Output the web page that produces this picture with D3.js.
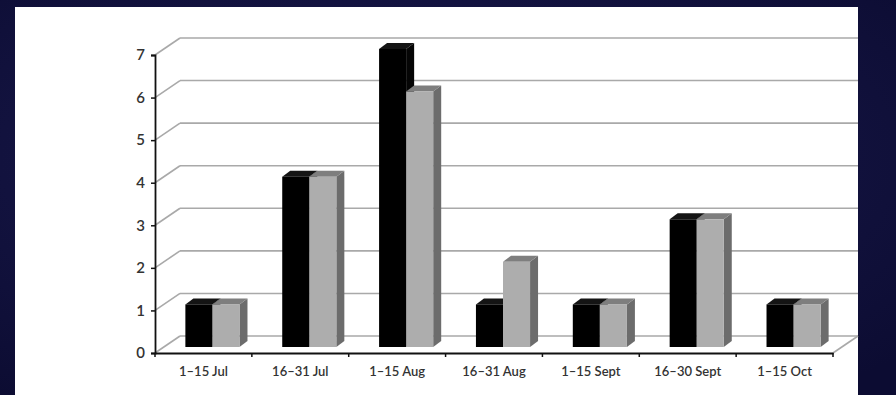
<!DOCTYPE html>
<html>
<head>
<meta charset="utf-8">
<script src="https://cdn.jsdelivr.net/npm/d3@7"></script>
<style>
  html, body { margin: 0; padding: 0; background: #0f0f3a; }
  svg { display: block; }
</style>
</head>
<body>
<svg id="chart" width="896" height="395"></svg>
<script>
// Fortnightly counts, two series drawn as paired 3D columns
const periods = ["1\u201315 Jul", "16\u201331 Jul", "1\u201315 Aug", "16\u201331 Aug", "1\u201315 Sept", "16\u201330 Sept", "1\u201315 Oct"];
const seriesNames = ["A", "B"];
const seriesA = [1, 4, 7, 1, 1, 3, 1];
const seriesB = [1, 4, 6, 2, 1, 3, 1];
const yTicks = [0, 1, 2, 3, 4, 5, 6, 7];

const svg = d3.select("#chart");
const W = 896, H = 395;

// background: dark navy with a soft glow
const defs = svg.append("defs");
const bg = defs.append("radialGradient").attr("id", "bg").attr("cx", "45%").attr("cy", "40%").attr("r", "75%");
bg.append("stop").attr("offset", "0%").attr("stop-color", "#1b1b50");
bg.append("stop").attr("offset", "100%").attr("stop-color", "#0c0c32");
svg.append("rect").attr("width", W).attr("height", H).attr("fill", "url(#bg)");

// white chart panel
svg.append("rect").attr("x", 15).attr("y", 7).attr("width", 843).attr("height", H - 7).attr("fill", "#ffffff");

// geometry
const floorLeft = 155, floorRight = 833;
const depth = { dx: 25, dy: -17 };          // back wall offset
const barFront = { dx: 9, dy: -6 };         // column front face offset
const barBack = { dx: 17, dy: -12 };        // column back face offset

const x = d3.scaleBand().domain(periods).range([floorLeft, floorRight]).paddingInner(0).paddingOuter(0);
const xs = d3.scaleBand().domain(seriesNames).range([0, x.bandwidth()]).paddingInner(0).paddingOuter(0.79);
const y = d3.scaleLinear().domain([0, 7]).range([353, 55]);

const gridColor = "#a9a9a9";
const g = svg.append("g");

// back wall grid lines + left wall diagonals
yTicks.forEach(v => {
  const yy = y(v);
  g.append("line")
    .attr("x1", floorLeft + depth.dx).attr("y1", yy + depth.dy)
    .attr("x2", 858).attr("y2", yy + depth.dy)
    .attr("stroke", gridColor).attr("stroke-width", 1.6);
  g.append("line")
    .attr("x1", floorLeft).attr("y1", yy)
    .attr("x2", floorLeft + depth.dx).attr("y2", yy + depth.dy)
    .attr("stroke", gridColor).attr("stroke-width", 1.6);
});

// floor right edge
g.append("line")
  .attr("x1", floorRight).attr("y1", y(0))
  .attr("x2", floorRight + depth.dx).attr("y2", y(0) + depth.dy)
  .attr("stroke", gridColor).attr("stroke-width", 1.6);

// columns
const series = [
  { key: "A", values: seriesA, front: "#000000", top: "#141414", side: "#050505" },
  { key: "B", values: seriesB, front: "#adadad", top: "#7e7e7e", side: "#6c6c6c" }
];

const bars = g.append("g");
periods.forEach((p, i) => {
  series.forEach(s => {
    const v = s.values[i];
    const x0 = x(p) + xs(s.key);
    const x1 = x0 + xs.bandwidth();
    const yb = y(0), yt = y(v);
    const fx0 = x0 + barFront.dx, fx1 = x1 + barFront.dx;
    const fyb = yb + barFront.dy, fyt = yt + barFront.dy;
    const bx1 = x1 + barBack.dx, bx0 = x0 + barBack.dx;
    const byb = yb + barBack.dy, byt = yt + barBack.dy;
    // side face
    bars.append("path")
      .attr("d", `M${fx1},${fyb}L${bx1},${byb}L${bx1},${byt}L${fx1},${fyt}Z`)
      .attr("fill", s.side);
    // top face
    bars.append("path")
      .attr("d", `M${fx0},${fyt}L${bx0},${byt}L${bx1},${byt}L${fx1},${fyt}Z`)
      .attr("fill", s.top);
    // front face
    bars.append("rect")
      .attr("x", fx0).attr("y", fyt)
      .attr("width", fx1 - fx0).attr("height", fyb - fyt)
      .attr("fill", s.front);
  });
});

const labelFont = "Lato, 'Open Sans', sans-serif";

// y axis
const yAxis = d3.axisLeft(y).tickValues(yTicks).tickSize(4).tickPadding(6).tickFormat(d3.format("d"));
const ya = svg.append("g").attr("transform", `translate(${floorLeft},0)`).call(yAxis);
ya.select(".domain").attr("stroke", "#111").attr("stroke-width", 1.8);
ya.selectAll(".tick line").attr("stroke", "#111").attr("stroke-width", 1.5);
ya.selectAll(".tick text")
  .attr("fill", "#333")
  .style("font-family", labelFont)
  .style("font-weight", "600")
  .style("font-size", "15px");

// x axis (front floor edge)
const xAxis = d3.axisBottom(x).tickSize(0).tickPadding(14);
const xa = svg.append("g").attr("transform", `translate(0,${y(0)})`).call(xAxis);
xa.select(".domain").attr("stroke", "#111").attr("stroke-width", 1.8);
xa.selectAll(".tick text")
  .attr("fill", "#333")
  .style("font-family", labelFont)
  .style("font-weight", "600")
  .style("font-size", "13px");
// category boundary ticks
const bounds = periods.map(p => x(p)).concat([floorRight]);
xa.selectAll(".bound").data(bounds).enter().append("line")
  .attr("class", "bound")
  .attr("x1", d => d).attr("x2", d => d)
  .attr("y1", 0).attr("y2", 4)
  .attr("stroke", "#111").attr("stroke-width", 1.5);
</script>
</body>
</html>
